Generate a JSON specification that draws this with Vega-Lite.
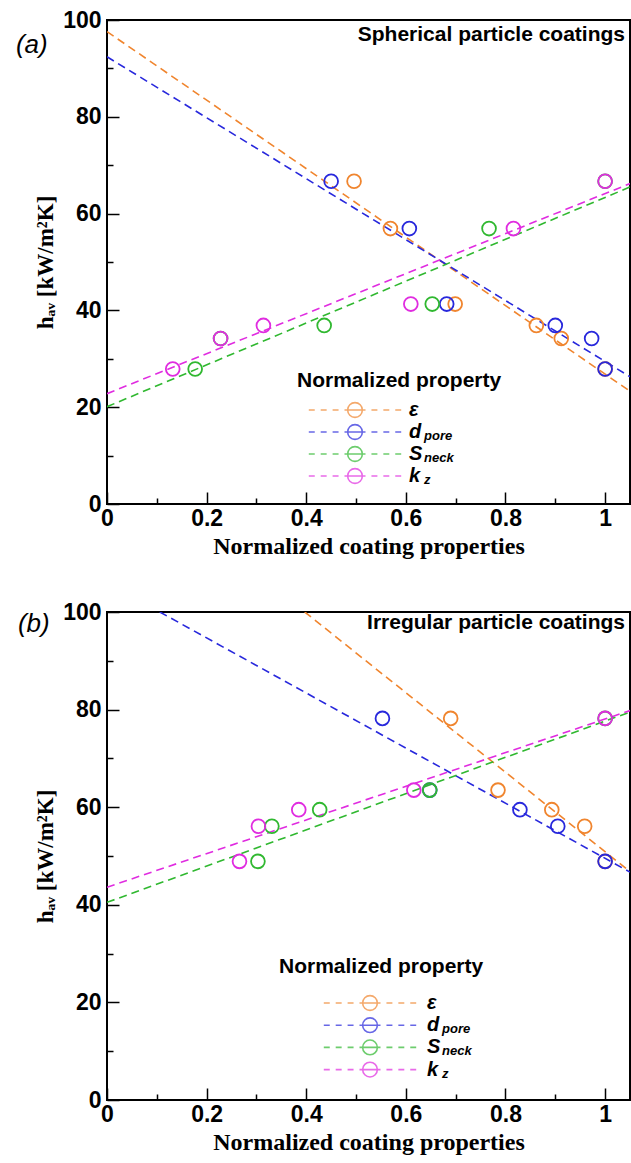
{
  "$schema": "https://vega.github.io/schema/vega-lite/v6.json",
  "background": "white",
  "autosize": {"type": "pad"},
  "padding": {"left": 14, "top": 8, "right": 0, "bottom": 0},
  "spacing": 41,
  "config": {
    "view": {"stroke": "black", "strokeWidth": 2},
    "font": "Liberation Sans",
    "axis": {
      "domain": false,
      "grid": false,
      "ticks": true,
      "tickColor": "black",
      "tickWidth": 1.5,
      "tickSize": 12,
      "offset": -12,
      "labelFont": "Liberation Sans",
      "labelFontSize": 23,
      "labelFontWeight": "bold",
      "labelColor": "black",
      "labelFlush": false,
      "labelOverlap": false,
      "titleFont": "Liberation Serif",
      "titleFontWeight": "bold",
      "titleColor": "black"
    },
    "legend": {"padding": 0, "titleLimit": 400, "labelLimit": 200}
  },
  "datasets": {
    "points_a": [
      {"p": "ε", "s": "", "x": 0.496, "y": 66.7},
      {"p": "ε", "s": "", "x": 0.569, "y": 56.9},
      {"p": "ε", "s": "", "x": 0.699, "y": 41.3},
      {"p": "ε", "s": "", "x": 0.862, "y": 36.9},
      {"p": "ε", "s": "", "x": 0.912, "y": 34.2},
      {"p": "ε", "s": "", "x": 1.0, "y": 27.9},
      {"p": "d", "s": "pore", "x": 0.45, "y": 66.7},
      {"p": "d", "s": "pore", "x": 0.607, "y": 56.9},
      {"p": "d", "s": "pore", "x": 0.682, "y": 41.3},
      {"p": "d", "s": "pore", "x": 0.9, "y": 36.9},
      {"p": "d", "s": "pore", "x": 0.973, "y": 34.2},
      {"p": "d", "s": "pore", "x": 1.0, "y": 27.9},
      {"p": "S", "s": "neck", "x": 1.0, "y": 66.7},
      {"p": "S", "s": "neck", "x": 0.767, "y": 56.9},
      {"p": "S", "s": "neck", "x": 0.653, "y": 41.3},
      {"p": "S", "s": "neck", "x": 0.436, "y": 36.9},
      {"p": "S", "s": "neck", "x": 0.228, "y": 34.2},
      {"p": "S", "s": "neck", "x": 0.177, "y": 27.9},
      {"p": "k", "s": "z", "x": 1.0, "y": 66.7},
      {"p": "k", "s": "z", "x": 0.816, "y": 56.9},
      {"p": "k", "s": "z", "x": 0.61, "y": 41.3},
      {"p": "k", "s": "z", "x": 0.314, "y": 36.9},
      {"p": "k", "s": "z", "x": 0.228, "y": 34.2},
      {"p": "k", "s": "z", "x": 0.132, "y": 27.9}
    ],
    "lines_a": [
      {"p": "ε", "x": 0, "y": 97.6},
      {"p": "ε", "x": 1.05, "y": 23.3},
      {"p": "d", "x": 0, "y": 92.4},
      {"p": "d", "x": 1.05, "y": 26.3},
      {"p": "S", "x": 0, "y": 20.1},
      {"p": "S", "x": 1.05, "y": 65.5},
      {"p": "k", "x": 0, "y": 22.8},
      {"p": "k", "x": 1.05, "y": 66.2}
    ],
    "points_b": [
      {"p": "ε", "s": "", "x": 0.69, "y": 78.2},
      {"p": "ε", "s": "", "x": 0.785, "y": 63.5},
      {"p": "ε", "s": "", "x": 0.893, "y": 59.5},
      {"p": "ε", "s": "", "x": 0.959, "y": 56.1},
      {"p": "ε", "s": "", "x": 1.0, "y": 48.9},
      {"p": "d", "s": "pore", "x": 0.553, "y": 78.2},
      {"p": "d", "s": "pore", "x": 0.648, "y": 63.5},
      {"p": "d", "s": "pore", "x": 0.829, "y": 59.5},
      {"p": "d", "s": "pore", "x": 0.905, "y": 56.1},
      {"p": "d", "s": "pore", "x": 1.0, "y": 48.9},
      {"p": "S", "s": "neck", "x": 1.0, "y": 78.2},
      {"p": "S", "s": "neck", "x": 0.648, "y": 63.5},
      {"p": "S", "s": "neck", "x": 0.427, "y": 59.5},
      {"p": "S", "s": "neck", "x": 0.331, "y": 56.1},
      {"p": "S", "s": "neck", "x": 0.303, "y": 48.9},
      {"p": "k", "s": "z", "x": 1.0, "y": 78.2},
      {"p": "k", "s": "z", "x": 0.616, "y": 63.5},
      {"p": "k", "s": "z", "x": 0.385, "y": 59.5},
      {"p": "k", "s": "z", "x": 0.304, "y": 56.1},
      {"p": "k", "s": "z", "x": 0.266, "y": 48.9}
    ],
    "lines_b": [
      {"p": "ε", "x": 0.397, "y": 100},
      {"p": "ε", "x": 1.05, "y": 46.8},
      {"p": "d", "x": 0.106, "y": 100},
      {"p": "d", "x": 1.05, "y": 46.7},
      {"p": "S", "x": 0, "y": 40.5},
      {"p": "S", "x": 1.05, "y": 79.5},
      {"p": "k", "x": 0, "y": 43.6},
      {"p": "k", "x": 1.05, "y": 79.8}
    ]
  },
  "resolve": {
    "scale": {"color": "independent", "opacity": "independent"},
    "legend": {"color": "independent", "opacity": "independent"}
  },
  "vconcat": [
    {
      "width": 523,
      "height": 484,
      "layer": [
        {
          "encoding": {
            "x": {
              "field": "x", "type": "quantitative",
              "scale": {"domain": [0, 1.05], "nice": false, "zero": false},
              "axis": {
                "title": "Normalized coating properties",
                "titleFontSize": 24,
                "titlePadding": 4,
                "values": [0, 0.05, 0.1, 0.15, 0.2, 0.25, 0.3, 0.35, 0.4, 0.45, 0.5, 0.55, 0.6, 0.65, 0.7, 0.75, 0.8, 0.85, 0.9, 0.95, 1],
                "labelExpr": "abs(datum.value*5 - round(datum.value*5)) < 0.001 ? '' + datum.value : ''",
                "tickDash": {"condition": {"test": "abs(datum.value*5 - round(datum.value*5)) < 0.001", "value": [100, 0]}, "value": [0, 6, 6, 100]},
                "labelPadding": 3
              }
            },
            "y": {
              "field": "y", "type": "quantitative",
              "scale": {"domain": [0, 100], "nice": false, "zero": false},
              "axis": {
                "title": "hₐᵥ    [kW/m²K]",
                "titleFontSize": 23,
                "titlePadding": 5,
                "values": [0, 5, 10, 15, 20, 25, 30, 35, 40, 45, 50, 55, 60, 65, 70, 75, 80, 85, 90, 95, 100],
                "labelExpr": "datum.value % 20 == 0 ? '' + datum.value : ''",
                "tickDash": {"condition": {"test": "datum.value % 20 == 0", "value": [100, 0]}, "value": [0, 6, 6, 100]},
                "labelPadding": 6
              }
            },
            "color": {
              "field": "p", "type": "nominal",
              "scale": {"domain": ["ε", "d", "S", "k"], "range": ["#F0852E", "#2828DC", "#30B830", "#E02CE0"]},
              "legend": {
                "orient": "none", "legendX": 190, "legendY": 350,
                "title": "Normalized property",
                "titleFont": "Liberation Sans", "titleFontSize": 21, "titleFontWeight": "bold", "titleColor": "black",
                "titlePadding": 9,
                "symbolType": "M-6.6,0H-5.75M-4.9,0H-4.05M-3.2,0H-2.35M-1.5,0H1.5M2.35,0H3.2M4.05,0H4.9M5.75,0H6.6M1.05,0A1.05,1.05,0,1,1,-1.05,0A1.05,1.05,0,1,1,1.05,0",
                "symbolSize": 196,
                "symbolStrokeWidth": 1.6,
                "symbolFillColor": "transparent",
                "symbolDash": [],
                "symbolOffset": 48,
                "labelOffset": 44,
                "labelFont": "Liberation Sans", "labelFontSize": 20, "labelFontStyle": "italic", "labelFontWeight": "bold", "labelColor": "black",
                "rowPadding": 0
              }
            }
          },
          "layer": [
            {
              "data": {"name": "lines_a"},
              "mark": {"type": "line", "strokeDash": [8, 5], "strokeWidth": 1.6, "clip": true}
            },
            {
              "data": {"name": "points_a"},
              "mark": {"type": "point", "shape": "circle", "filled": false, "size": 190, "strokeWidth": 1.8},
              "encoding": {
                "opacity": {
                  "field": "s", "type": "nominal",
                  "scale": {"domain": ["", "pore", "neck", "z"], "range": [1, 1, 1, 1]},
                  "legend": {
                    "orient": "none", "legendX": 304, "legendY": 409,
                    "title": null,
                    "values": ["pore", "neck", "z"],
                    "symbolSize": 0,
                    "symbolOffset": 0,
                    "labelOffset": 0,
                    "labelFont": "Liberation Sans", "labelFontSize": 13, "labelFontStyle": "italic", "labelFontWeight": "bold", "labelColor": "black",
                    "rowPadding": 8
                  }
                }
              }
            }
          ]
        },
        {
          "data": {"values": [{"t": "(a)"}]},
          "mark": {"type": "text", "font": "Liberation Sans", "fontSize": 26, "fontStyle": "italic", "align": "center", "baseline": "middle", "fill": "black"},
          "encoding": {
            "x": {"datum": -0.151, "type": "quantitative"},
            "y": {"datum": 94.8, "type": "quantitative"},
            "text": {"field": "t", "type": "nominal"}
          }
        },
        {
          "data": {"values": [{"t": "Spherical particle coatings"}]},
          "mark": {"type": "text", "font": "Liberation Sans", "fontSize": 21, "fontWeight": "bold", "align": "right", "baseline": "middle", "fill": "black"},
          "encoding": {
            "x": {"datum": 1.04, "type": "quantitative"},
            "y": {"datum": 96.9, "type": "quantitative"},
            "text": {"field": "t", "type": "nominal"}
          }
        }
      ]
    },
    {
      "width": 523,
      "height": 488,
      "layer": [
        {
          "encoding": {
            "x": {
              "field": "x", "type": "quantitative",
              "scale": {"domain": [0, 1.05], "nice": false, "zero": false},
              "axis": {
                "title": "Normalized coating properties",
                "titleFontSize": 24,
                "titlePadding": 4,
                "values": [0, 0.05, 0.1, 0.15, 0.2, 0.25, 0.3, 0.35, 0.4, 0.45, 0.5, 0.55, 0.6, 0.65, 0.7, 0.75, 0.8, 0.85, 0.9, 0.95, 1],
                "labelExpr": "abs(datum.value*5 - round(datum.value*5)) < 0.001 ? '' + datum.value : ''",
                "tickDash": {"condition": {"test": "abs(datum.value*5 - round(datum.value*5)) < 0.001", "value": [100, 0]}, "value": [0, 6, 6, 100]},
                "labelPadding": 3
              }
            },
            "y": {
              "field": "y", "type": "quantitative",
              "scale": {"domain": [0, 100], "nice": false, "zero": false},
              "axis": {
                "title": "hₐᵥ    [kW/m²K]",
                "titleFontSize": 23,
                "titlePadding": 5,
                "values": [0, 5, 10, 15, 20, 25, 30, 35, 40, 45, 50, 55, 60, 65, 70, 75, 80, 85, 90, 95, 100],
                "labelExpr": "datum.value % 20 == 0 ? '' + datum.value : ''",
                "tickDash": {"condition": {"test": "datum.value % 20 == 0", "value": [100, 0]}, "value": [0, 6, 6, 100]},
                "labelPadding": 6
              }
            },
            "color": {
              "field": "p", "type": "nominal",
              "scale": {"domain": ["ε", "d", "S", "k"], "range": ["#F0852E", "#2828DC", "#30B830", "#E02CE0"]},
              "legend": {
                "orient": "none", "legendX": 172, "legendY": 344,
                "title": "Normalized property",
                "titleFont": "Liberation Sans", "titleFontSize": 21, "titleFontWeight": "bold", "titleColor": "black",
                "titlePadding": 16,
                "symbolType": "M-6.6,0H-5.75M-4.9,0H-4.05M-3.2,0H-2.35M-1.5,0H1.5M2.35,0H3.2M4.05,0H4.9M5.75,0H6.6M1.05,0A1.05,1.05,0,1,1,-1.05,0A1.05,1.05,0,1,1,1.05,0",
                "symbolSize": 196,
                "symbolStrokeWidth": 1.6,
                "symbolFillColor": "transparent",
                "symbolDash": [],
                "symbolOffset": 81,
                "labelOffset": 47,
                "labelFont": "Liberation Sans", "labelFontSize": 20, "labelFontStyle": "italic", "labelFontWeight": "bold", "labelColor": "black",
                "rowPadding": 0.2
              }
            }
          },
          "layer": [
            {
              "data": {"name": "lines_b"},
              "mark": {"type": "line", "strokeDash": [8, 5], "strokeWidth": 1.6, "clip": true}
            },
            {
              "data": {"name": "points_b"},
              "mark": {"type": "point", "shape": "circle", "filled": false, "size": 190, "strokeWidth": 1.8},
              "encoding": {
                "opacity": {
                  "field": "s", "type": "nominal",
                  "scale": {"domain": ["", "pore", "neck", "z"], "range": [1, 1, 1, 1]},
                  "legend": {
                    "orient": "none", "legendX": 322, "legendY": 410,
                    "title": null,
                    "values": ["pore", "neck", "z"],
                    "symbolSize": 0,
                    "symbolOffset": 0,
                    "labelOffset": 0,
                    "labelFont": "Liberation Sans", "labelFontSize": 13, "labelFontStyle": "italic", "labelFontWeight": "bold", "labelColor": "black",
                    "rowPadding": 8.5
                  }
                }
              }
            }
          ]
        },
        {
          "data": {"values": [{"t": "(b)"}]},
          "mark": {"type": "text", "font": "Liberation Sans", "fontSize": 26, "fontStyle": "italic", "align": "center", "baseline": "middle", "fill": "black"},
          "encoding": {
            "x": {"datum": -0.147, "type": "quantitative"},
            "y": {"datum": 97.5, "type": "quantitative"},
            "text": {"field": "t", "type": "nominal"}
          }
        },
        {
          "data": {"values": [{"t": "Irregular particle coatings"}]},
          "mark": {"type": "text", "font": "Liberation Sans", "fontSize": 21, "fontWeight": "bold", "align": "right", "baseline": "middle", "fill": "black"},
          "encoding": {
            "x": {"datum": 1.04, "type": "quantitative"},
            "y": {"datum": 97.7, "type": "quantitative"},
            "text": {"field": "t", "type": "nominal"}
          }
        }
      ]
    }
  ]
}
